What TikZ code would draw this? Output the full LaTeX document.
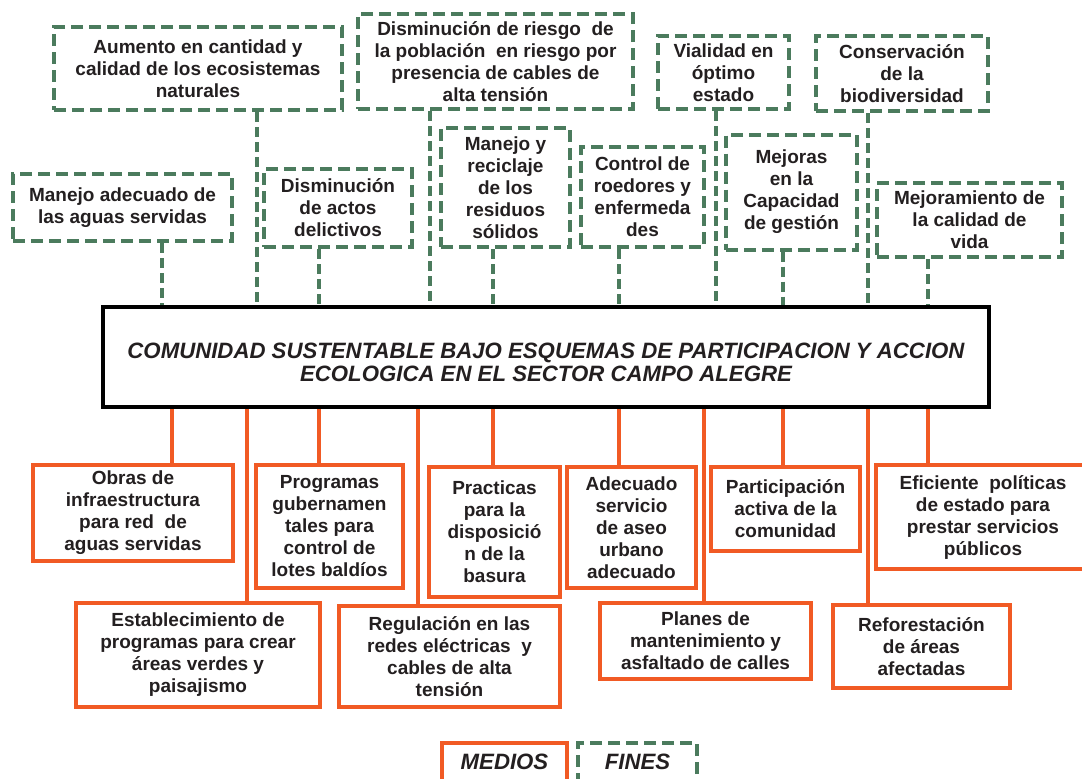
\documentclass[tikz,border=0pt]{standalone}
\usepackage{fontspec}
\setmainfont{Liberation Sans}
\definecolor{verde}{HTML}{4B7B5D}
\definecolor{naranja}{HTML}{F15A24}
\definecolor{texto}{HTML}{231F20}
\begin{document}
\begin{tikzpicture}[x=1pt, y=-1pt, font=\fontsize{19}{22}\selectfont\bfseries, text=texto,
  fin/.style={draw=verde, line width=4pt, dash pattern=on 12pt off 6pt, align=center, inner sep=0pt},
  medio/.style={draw=naranja, line width=4pt, align=center, inner sep=0pt},
  finline/.style={draw=verde, line width=3.5pt, dash pattern=on 10pt off 5pt},
  medioline/.style={draw=naranja, line width=3.5pt},
  titulo/.style={font=\fontsize{22.2}{23}\selectfont\bfseries\itshape}]
  \useasboundingbox (0,0) rectangle (1082,779);
  \clip (0,0) rectangle (1082,779);

  % caja central
  \node[draw=black, line width=4pt, minimum width=886pt, minimum height=100pt] (cen) at (546,357) {};
  \node[align=center, titulo] (cent) at ([yshift=-5pt]cen.center)
    {COMUNIDAD SUSTENTABLE BAJO ESQUEMAS DE PARTICIPACION Y ACCION\\ECOLOGICA EN EL SECTOR CAMPO ALEGRE};

  % fines (arriba)
  \node[fin, minimum width=219pt, minimum height=67pt] (f1) at (122.5,207.5) {Manejo adecuado de\\las aguas servidas};
  \node[fin, minimum width=288pt, minimum height=83pt] (f2) at (198,68.5) {Aumento en cantidad y\\calidad de los ecosistemas\\naturales};
  \node[fin, minimum width=148pt, minimum height=78pt] (f3) at (338,208) {Disminución\\de actos\\delictivos};
  \node[fin, minimum width=275pt, minimum height=95pt] (f4) at (495.5,61.5) {Disminución de riesgo\ \ de\\la población\ \ en riesgo por\\presencia de cables de\\alta tensión};
  \node[fin, minimum width=129pt, minimum height=119pt] (f5) at (505.5,187.5) {Manejo y\\reciclaje\\de los\\residuos\\sólidos};
  \node[fin, minimum width=123pt, minimum height=100pt] (f6) at (642.5,197) {Control de\\roedores y\\enfermeda\\des};
  \node[fin, minimum width=131pt, minimum height=73pt] (f7) at (723.5,72.5) {Vialidad en\\óptimo\\estado};
  \node[fin, minimum width=172pt, minimum height=75pt] (f8) at (902,73.5) {Conservación\\de la\\biodiversidad};
  \node[fin, minimum width=131pt, minimum height=115pt] (f9) at (791.5,192) {Mejoras\\en la\\Capacidad\\de gestión};
  \node[fin, minimum width=185pt, minimum height=74pt] (f10) at (969.5,220) {Mejoramiento de\\la calidad de\\vida};

  % medios (abajo)
  \node[medio, minimum width=200pt, minimum height=96pt] (m1) at (133,513) {Obras de\\infraestructura\\para red\ \ de\\aguas servidas};
  \node[medio, minimum width=244pt, minimum height=104pt] (m2) at (198,655) {Establecimiento de\\programas para crear\\áreas verdes y\\paisajismo};
  \node[medio, minimum width=147pt, minimum height=123pt] (m3) at (329.5,526.5) {Programas\\gubernamen\\tales para\\control de\\lotes baldíos};
  \node[medio, minimum width=221pt, minimum height=101pt] (m4) at (449.5,656.5) {Regulación en las\\redes eléctricas\ \ y\\cables de alta\\tensión};
  \node[medio, minimum width=131pt, minimum height=130pt] (m5) at (494.5,532) {Practicas\\para la\\disposició\\n de la\\basura};
  \node[medio, minimum width=129pt, minimum height=121pt] (m6) at (631.5,527.5) {Adecuado\\servicio\\de aseo\\urbano\\adecuado};
  \node[medio, minimum width=211pt, minimum height=76pt] (m7) at (705.5,641) {Planes de\\mantenimiento y\\asfaltado de calles};
  \node[medio, minimum width=149pt, minimum height=84pt] (m8) at (785.5,509) {Participación\\activa de la\\comunidad};
  \node[medio, minimum width=177pt, minimum height=83pt] (m9) at (921.5,646.5) {Reforestación\\de áreas\\afectadas};
  \node[medio, minimum width=214pt, minimum height=104pt] (m10) at (983,517) {Eficiente\ \ políticas\\de estado para\\prestar servicios\\públicos};

  % conectores
  \foreach \n/\x in {f1/162, f2/257, f3/319, f4/430, f5/493, f6/619, f7/716, f8/868, f9/783, f10/928}
    \draw[finline] (\x,0 |- \n.south) -- (\x,0 |- cen.north);
  \foreach \n/\x in {m1/172, m2/247, m3/319, m4/418, m5/493, m6/619, m7/704, m8/783, m9/868, m10/928}
    \draw[medioline] (\x,0 |- cen.south) -- (\x,0 |- \n.north);

  % leyenda
  \node[medio, minimum width=125pt, minimum height=38pt, titulo] (leyM) at (504.5,762) {MEDIOS};
  \node[fin, minimum width=119pt, minimum height=38pt, titulo] (leyF) at (637.5,762) {FINES};
\end{tikzpicture}
\end{document}
